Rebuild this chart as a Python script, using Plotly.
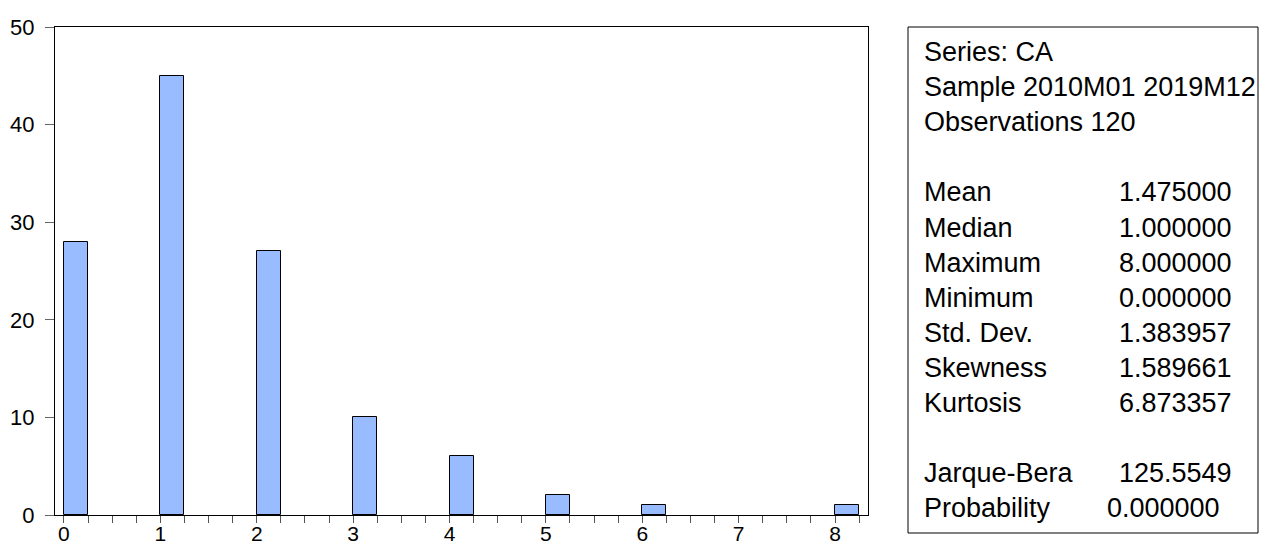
import plotly.graph_objects as go

W, H = 1267, 548

# ---- data ----
bins = [0, 1, 2, 3, 4, 5, 6, 7, 8]
counts = [28, 45, 27, 10, 6, 2, 1, 0, 1]
y_ticks = [0, 10, 20, 30, 40, 50]
x_ticks = [0, 1, 2, 3, 4, 5, 6, 7, 8]

header_lines = ["Series: CA", "Sample 2010M01 2019M12", "Observations 120"]
stat_labels = ["Mean", "Median", "Maximum", "Minimum", "Std. Dev.", "Skewness", "Kurtosis"]
stat_values = ["1.475000", "1.000000", "8.000000", "0.000000", "1.383957", "1.589661", "6.873357"]
test_labels = ["Jarque-Bera", "Probability"]
test_values = ["125.5549", "0.000000"]

FONT = "Arial, Liberation Sans, sans-serif"

fig = go.Figure()
fig.add_trace(go.Bar(
    x=bins, y=counts, width=0.25, offset=0,
    marker=dict(color="#99bbff",
                line=dict(color="#000000", width=[1 if c > 0 else 0 for c in counts])),
    showlegend=False, hoverinfo="x+y",
))

# plot area in pixels
L, R, T, B = 55, 868, 27, 515
fig.update_layout(
    width=W, height=H,
    margin=dict(l=0, r=0, t=0, b=0, autoexpand=False),
    paper_bgcolor="white", plot_bgcolor="white",
    font=dict(family=FONT, size=22, color="#000"),
    bargap=0,
    xaxis=dict(
        domain=[L / W, R / W], range=[-0.093, 8.342], automargin=False,
        tickmode="array", tickvals=x_ticks, ticktext=[str(v) for v in x_ticks],
        ticks="outside", ticklen=7, tickcolor="#555", tickwidth=1,
        minor=dict(dtick=0.25, tick0=0, ticks="outside", ticklen=7, tickcolor="#555", tickwidth=1),
        showline=True, linecolor="#000", linewidth=1, mirror=True,
        showgrid=False, zeroline=False, ticklabelstandoff=-7,
        tickfont=dict(size=21),
    ),
    yaxis=dict(
        domain=[1 - B / H, 1 - T / H], range=[0, 50], automargin=False,
        tickmode="array", tickvals=y_ticks, ticktext=[str(v) for v in y_ticks],
        ticks="outside", ticklen=9, tickcolor="#666", tickwidth=1,
        showline=True, linecolor="#000", linewidth=1, mirror=True,
        showgrid=False, zeroline=False, ticklabelstandoff=6,
        tickfont=dict(size=22),
    ),
)

# stats box
bx0, bx1, by0, by1 = 908, 1258, 27, 533
fig.add_shape(type="rect", xref="paper", yref="paper",
              x0=bx0 / W, x1=bx1 / W, y0=1 - by1 / H, y1=1 - by0 / H,
              line=dict(color="#000", width=1), fillcolor="rgba(0,0,0,0)")

SZ = 27
row0, step = 52, 35.1
lx, vx = 923, 1233

def ann(text, px, row, anchor):
    fig.add_annotation(xref="paper", yref="paper", x=px / W, y=1 - (row0 + row * step) / H,
                       text=text, showarrow=False, xanchor=anchor, yanchor="middle",
                       borderpad=0, font=dict(family=FONT, size=SZ, color="#000"))

for i, t in enumerate(header_lines):
    ann(t, lx, i, "left")
for i, (lab, val) in enumerate(zip(stat_labels, stat_values)):
    ann(lab, lx, 4 + i, "left")
    ann(val, vx, 4 + i, "right")
for i, (lab, val) in enumerate(zip(test_labels, test_values)):
    ann(lab, lx, 12 + i, "left")
    ann(val, vx if i == 0 else vx - 12, 12 + i, "right")

fig.write_html("out.html")
